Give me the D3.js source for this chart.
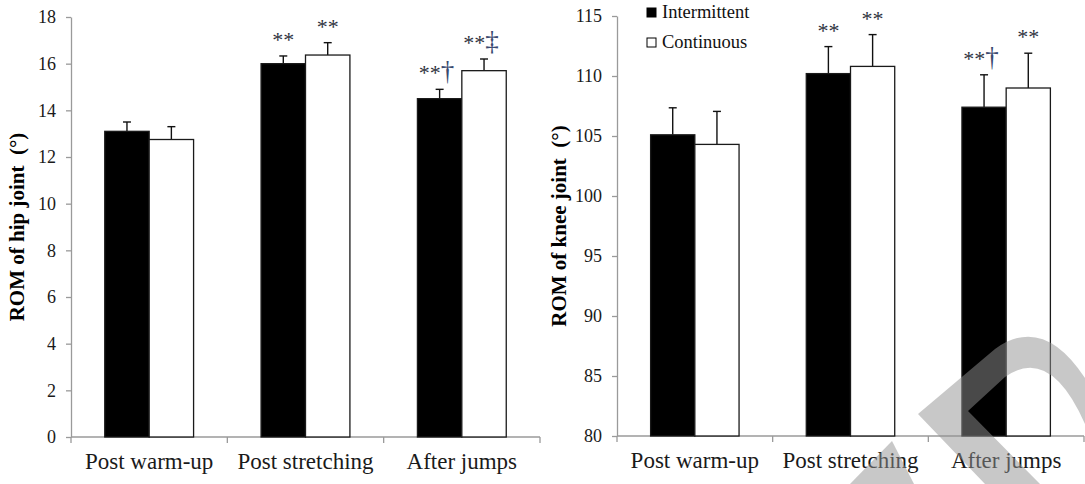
<!DOCTYPE html>
<html>
<head>
<meta charset="utf-8">
<script src="https://cdn.jsdelivr.net/npm/d3@7"></script>
<style>
body { margin: 0; background: #fff; }
svg { display: block; font-family: "Liberation Serif", "Times New Roman", serif; }
.axis path, .axis line { stroke: #9a9a9a; stroke-width: 1.3; }
.axis text { fill: #1a1a1a; }
</style>
</head>
<body>
<svg id="chart" width="1085" height="484"></svg>
<script>
var categories = ["Post warm-up", "Post stretching", "After jumps"];
var seriesNames = ["Intermittent", "Continuous"];

var hipIntermittent = [13.1, 16.0, 14.5];
var hipIntermittentErr = [0.4, 0.33, 0.4];
var hipContinuous = [12.75, 16.37, 15.7];
var hipContinuousErr = [0.55, 0.53, 0.5];
var hipIntermittentMarks = ["", "**", "**\u2020"];
var hipContinuousMarks = ["", "**", "**\u2021"];
var hipTicks = [0, 2, 4, 6, 8, 10, 12, 14, 16, 18];

var kneeIntermittent = [105.1, 110.2, 107.4];
var kneeIntermittentErr = [2.25, 2.25, 2.7];
var kneeContinuous = [104.3, 110.8, 109.0];
var kneeContinuousErr = [2.75, 2.65, 2.9];
var kneeIntermittentMarks = ["", "**", "**\u2020"];
var kneeContinuousMarks = ["", "**", "**"];
var kneeTicks = [80, 85, 90, 95, 100, 105, 110, 115];

var svg = d3.select("#chart");

function drawPanel(opts)
{
	var g = svg.append("g").attr("transform", "translate(" + opts.left + "," + opts.top + ")");
	var w = opts.width, h = opts.height;

	var x0 = d3.scaleBand().domain(categories).range([0, w]).paddingInner(0).paddingOuter(0);
	var x1 = d3.scaleBand().domain(seriesNames).range([0, x0.bandwidth()]).paddingInner(0).paddingOuter(0.76);
	var y = d3.scaleLinear().domain(opts.domain).range([h, 0]);

	var rows = [];
	for(var i = 0; i < categories.length; i++)
	{
		rows.push({cat: categories[i], series: seriesNames[0], v: opts.a[i], e: opts.aErr[i], mark: opts.aMarks[i]});
		rows.push({cat: categories[i], series: seriesNames[1], v: opts.b[i], e: opts.bErr[i], mark: opts.bMarks[i]});
	}

	// y axis
	var yAxis = g.append("g").attr("class", "axis")
		.call(d3.axisLeft(y).tickValues(opts.ticks).tickSize(5).tickSizeOuter(0).tickPadding(10));
	yAxis.attr("font-family", null).attr("font-size", null);
	yAxis.selectAll("text").style("font-size", "18px");

	// x axis, ticks at band edges
	var xAxis = g.append("g").attr("class", "axis").attr("transform", "translate(0," + h + ")");
	xAxis.append("line").attr("x1", 0).attr("x2", w).attr("y1", 0).attr("y2", 0);
	var edges = categories.map(function(c){ return x0(c); }).concat([w]);
	xAxis.selectAll("line.tk").data(edges).enter().append("line")
		.attr("class", "tk")
		.attr("x1", function(d){ return d; }).attr("x2", function(d){ return d; })
		.attr("y1", 0).attr("y2", 6);
	xAxis.selectAll("text").data(categories).enter().append("text")
		.attr("x", function(d){ return x0(d) + x0.bandwidth()/2; })
		.attr("y", 32)
		.attr("text-anchor", "middle")
		.style("font-size", "23px")
		.text(function(d){ return d; });

	var bars = g.selectAll("g.bar").data(rows).enter().append("g").attr("class", "bar")
		.attr("transform", function(d){ return "translate(" + (x0(d.cat) + x1(d.series)) + ",0)"; });

	// error bars (upper only)
	bars.append("line")
		.attr("x1", x1.bandwidth()/2).attr("x2", x1.bandwidth()/2)
		.attr("y1", function(d){ return y(d.v); })
		.attr("y2", function(d){ return y(d.v + d.e); })
		.attr("stroke", "#111").attr("stroke-width", 1.4);
	bars.append("line")
		.attr("x1", x1.bandwidth()/2 - 4).attr("x2", x1.bandwidth()/2 + 4)
		.attr("y1", function(d){ return y(d.v + d.e); })
		.attr("y2", function(d){ return y(d.v + d.e); })
		.attr("stroke", "#111").attr("stroke-width", 1.4);

	bars.append("rect")
		.attr("x", 0)
		.attr("width", x1.bandwidth())
		.attr("y", function(d){ return y(d.v); })
		.attr("height", function(d){ return h - y(d.v); })
		.attr("fill", function(d){ return d.series == seriesNames[0] ? "#000" : "#fff"; })
		.attr("stroke", "#1a1a1a").attr("stroke-width", 1.3);

	// significance marks: asterisks plus a taller dagger
	var marks = bars.append("text")
		.attr("x", function(d){ return x1.bandwidth()/2 - (d.mark.length > 2 ? 3 : 0); })
		.attr("y", function(d){ return y(d.v + d.e) - 9; })
		.attr("text-anchor", "middle")
		.attr("fill", "#2e3340")
		.style("font-size", "22px");
	marks.append("tspan").text(function(d){ return d.mark.slice(0, 2); });
	marks.append("tspan")
		.attr("fill", "#3a4a70")
		.style("font-size", "27px")
		.text(function(d){ return d.mark.slice(2); });

	// axis title
	g.append("text")
		.attr("transform", "translate(" + opts.titleX + "," + (h/2) + ") rotate(-90)")
		.attr("text-anchor", "middle")
		.style("font-size", "21px").style("font-weight", "bold")
		.style("white-space", "pre")
		.text(opts.title);

	return g;
}

drawPanel({left: 71, top: 17, width: 469, height: 420, domain: [0, 18], ticks: hipTicks,
	a: hipIntermittent, aErr: hipIntermittentErr, aMarks: hipIntermittentMarks,
	b: hipContinuous, bErr: hipContinuousErr, bMarks: hipContinuousMarks,
	title: "ROM of hip joint  (\u00b0)", titleX: -47});

drawPanel({left: 617, top: 16, width: 467, height: 420, domain: [80, 115], ticks: kneeTicks,
	a: kneeIntermittent, aErr: kneeIntermittentErr, aMarks: kneeIntermittentMarks,
	b: kneeContinuous, bErr: kneeContinuousErr, bMarks: kneeContinuousMarks,
	title: "ROM of knee joint  (\u00b0)", titleX: -51});

// legend
var legend = svg.append("g").attr("transform", "translate(647,0)");
var li = legend.selectAll("g").data(seriesNames).enter().append("g")
	.attr("transform", function(d, i){ return "translate(0," + (8 + i*30) + ")"; });
li.append("rect").attr("width", 9).attr("height", 9)
	.attr("fill", function(d, i){ return i == 0 ? "#000" : "#fff"; })
	.attr("stroke", "#000").attr("stroke-width", 1);
li.append("text").attr("x", 15).attr("y", 10)
	.style("font-size", "18.5px").attr("fill", "#111")
	.text(function(d){ return d; });

// grey watermark overlay in the bottom right corner
var wm = svg.append("g").attr("fill", "#929292").attr("opacity", 0.5);
wm.append("path").attr("d",
	"M918,414 L995,349 Q1043,314 1085,378 L1085,424 Q1050,345 1005,377 L968,411 L1040,484 L985,484 Z");
wm.append("path").attr("d", "M892,441 L850,484 L914,484 Z");
</script>
</body>
</html>
